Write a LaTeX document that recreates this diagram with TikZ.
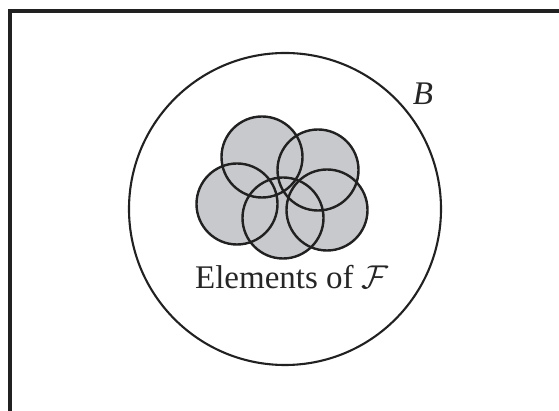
\documentclass[tikz,border=0pt]{standalone}
\usepackage{fix-cm}
\usepackage{fontspec}
\setmainfont{Liberation Serif}
\usepackage{tikz}
\definecolor{discgray}{RGB}{200,201,204}
\colorlet{inkcolor}{black!87}
\tikzset{
  frame line/.style={inkcolor, line width=4.2pt},
  set outline/.style={inkcolor, line width=2.1pt},
  element disc/.style={inkcolor, line width=2.4pt},
  set label/.style={font=\fontsize{33}{38}\selectfont, text=black!85, inner sep=0pt}
}

\begin{document}
\begin{tikzpicture}[x=1pt, y=1pt]

  \useasboundingbox (0,0) rectangle (559,411);

  % Corner of the surrounding frame (only two sides show).
  \coordinate (frameB) at (10,0);
  \coordinate (frameC) at (10,400);
  \coordinate (frameR) at (559,400);
  \draw[frame line, line join=miter] (frameB) -- (frameC) -- (frameR);

  % The ball B.
  \coordinate (ballB) at (285,202);
  \draw[set outline] (ballB) circle[radius=156];
  \node[set label, anchor=base] (labelB) at (423,306) {\itshape B};

  % Elements of the family: fill first, then all outlines on top.
  \coordinate (eA) at (262,254);
  \coordinate (eB) at (318,241);
  \coordinate (eC) at (237,207);
  \coordinate (eD) at (283,193);
  \coordinate (eE) at (327,201);
  \foreach \e in {eA,eB,eC,eD,eE}
    \fill[discgray] (\e) circle[radius=40.5];
  \foreach \e in {eA,eB,eC,eD,eE}
    \draw[element disc] (\e) circle[radius=40.5];

  \node[set label, anchor=base] (labelF) at (292,122) {Elements of $\mathcal{F}$};

\end{tikzpicture}
\end{document}
